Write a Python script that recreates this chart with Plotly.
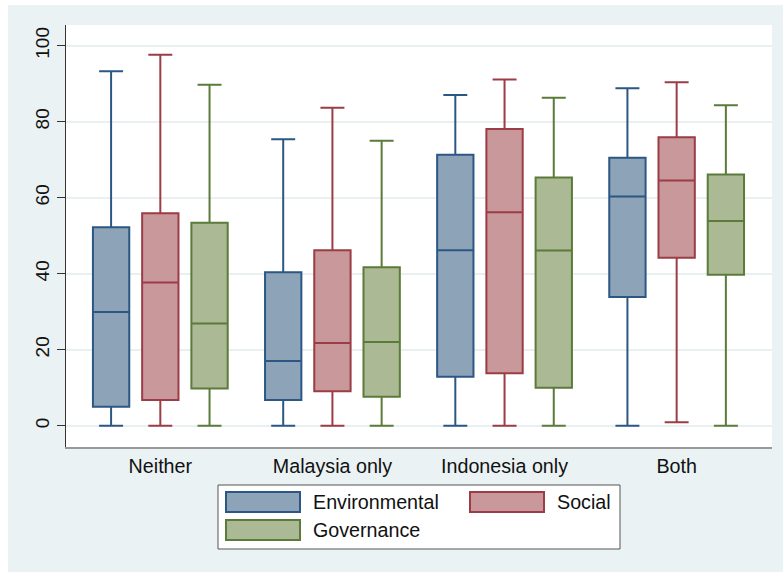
import plotly.graph_objects as go

# Categories and box statistics (min/max whisker ends, quartiles, median)
categories = ["Neither", "Malaysia only", "Indonesia only", "Both"]
series = ["Environmental", "Social", "Governance"]

env_low = [0, 0, 0, 0]
env_q1 = [5.0, 6.8, 12.9, 33.9]
env_med = [29.9, 17.0, 46.2, 60.3]
env_q3 = [52.2, 40.4, 71.3, 70.5]
env_high = [93.3, 75.4, 87.0, 88.8]

soc_low = [0, 0, 0, 0.9]
soc_q1 = [6.8, 9.1, 13.8, 44.2]
soc_med = [37.7, 21.8, 56.2, 64.5]
soc_q3 = [55.9, 46.2, 78.1, 75.9]
soc_high = [97.6, 83.7, 91.1, 90.4]

gov_low = [0, 0, 0, 0]
gov_q1 = [9.8, 7.6, 10.0, 39.7]
gov_med = [26.9, 22.0, 46.1, 53.9]
gov_q3 = [53.4, 41.7, 65.3, 66.1]
gov_high = [89.7, 75.0, 86.3, 84.3]

y_ticks = [0, 20, 40, 60, 80, 100]

line_colors = ["#2C5784", "#9C3C46", "#5B7B3A"]
fill_colors = ["#8DA3B8", "#C8989B", "#ABB994"]

stats = [
    (env_low, env_q1, env_med, env_q3, env_high),
    (soc_low, soc_q1, soc_med, soc_q3, soc_high),
    (gov_low, gov_q1, gov_med, gov_q3, gov_high),
]

W, H = 783, 572
L, R, T, B = 66, 11, 25, 125
PW, PH = W - L - R, H - T - B


def px_x(px):
    return (px - L) / PW


def px_y(py):
    return (H - B - py) / PH


FONT = "Liberation Sans, Arial, sans-serif"
TXT = 19.7
x_pos = list(range(len(categories)))

fig = go.Figure()
for name, (lo, q1, med, q3, hi), lc, fc in zip(series, stats, line_colors, fill_colors):
    fig.add_trace(go.Box(
        x=x_pos, lowerfence=lo, q1=q1, median=med, q3=q3, upperfence=hi,
        name=name, offsetgroup=name, boxpoints=False,
        fillcolor=fc, line=dict(color=lc, width=2), whiskerwidth=0.66,
        showlegend=False, hoverinfo="skip",
    ))

shapes = [
    # white strips at the top-left edge of the graph region
    dict(type="rect", xref="paper", yref="paper", x0=px_x(0), x1=px_x(8),
         y0=px_y(H), y1=px_y(0), fillcolor="white", line=dict(width=0), layer="below"),
    dict(type="rect", xref="paper", yref="paper", x0=px_x(0), x1=px_x(W),
         y0=px_y(5), y1=px_y(0), fillcolor="white", line=dict(width=0), layer="below"),
    # legend frame
    dict(type="rect", xref="paper", yref="paper", x0=px_x(218), x1=px_x(620),
         y0=px_y(549), y1=px_y(485), fillcolor="white",
         line=dict(color="#555555", width=1)),
]
annotations = []
legend_slots = [(226, 492), (470, 492), (226, 520)]
for name, lc, fc, (sx, sy) in zip(series, line_colors, fill_colors, legend_slots):
    shapes.append(dict(type="rect", xref="paper", yref="paper",
                       x0=px_x(sx), x1=px_x(sx + 74), y0=px_y(sy + 20), y1=px_y(sy),
                       fillcolor=fc, line=dict(color=lc, width=2)))
    annotations.append(dict(xref="paper", yref="paper", x=px_x(sx + 85), y=px_y(sy + 10),
                            text=name, showarrow=False, xanchor="left", yanchor="middle",
                            font=dict(family=FONT, size=TXT, color="#111111")))

fig.update_layout(
    width=W, height=H,
    margin=dict(l=L, r=R, t=T, b=B, pad=0),
    paper_bgcolor="#EAF2F3", plot_bgcolor="white",
    boxmode="group", boxgap=0.142, boxgroupgap=0.262,
    font=dict(family=FONT, size=TXT, color="#111111"),
    shapes=shapes, annotations=annotations, showlegend=False,
)
fig.update_xaxes(
    range=[-0.548, 3.554], tickmode="array", tickvals=x_pos, ticktext=categories,
    showgrid=False, zeroline=False, ticks="", showline=True,
    linecolor="#999999", linewidth=2, tickfont=dict(size=TXT),
)
fig.update_yaxes(
    range=[-5.6, 105.45], tickmode="array", tickvals=y_ticks,
    showgrid=True, gridcolor="#E9F0F2", gridwidth=1.5, zeroline=False,
    ticks="outside", ticklen=8, tickcolor="#333333", tickwidth=1,
    showline=True, linecolor="#333333", linewidth=1,
    tickangle=-90, tickfont=dict(size=19),
)

fig.write_html("out.html")
